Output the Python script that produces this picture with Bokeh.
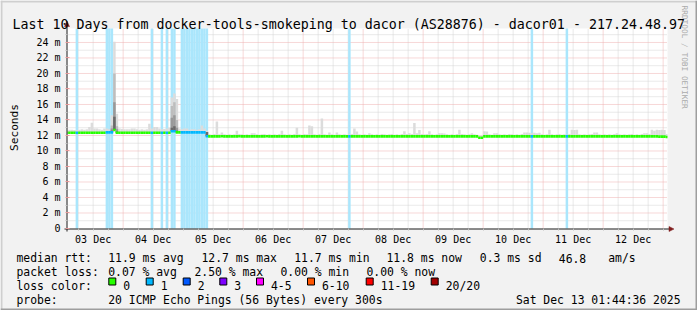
import math
from bokeh.plotting import figure
from bokeh.models import Range1d, FixedTicker, ColumnDataSource
from bokeh.core.properties import value
from bokeh.embed import file_html
from bokeh.resources import INLINE

# ---------------- data ----------------
TITLE = "Last 10 Days from docker-tools-smokeping to dacor (AS28876) - dacor01 - 217.24.48.97"
# time axis: hours since 03 Dec 00:00; window ends Sat Dec 13 01:44:36 2025
END_TEXT = "Sat Dec 13 01:44:36 2025"
window_end_h = 241 + 44 / 60 + 36 / 3600
window_len_h = 240
first_bin_h = 1          # hourly bins, first one starts 03 Dec 01:00

median_rtt = [  # ms, one value per hour bin
    12.35, 12.35, 12.35, 12.35, 12.35, 12.35, 12.35, 12.35, 12.35, 12.35, 12.35, 12.35,
    12.35, 12.35, 12.35, 12.35, 12.4, 12.4, 12.4, 12.7, 12.35, 12.35, 12.35, 12.35,
    12.35, 12.35, 12.35, 12.35, 12.35, 12.35, 12.35, 12.35, 12.35, 12.35, 12.35, 12.35,
    12.35, 12.35, 12.35, 12.35, 12.35, 12.35, 12.55, 12.55, 12.4, 12.4, 12.4, 12.4,
    12.4, 12.4, 12.4, 12.4, 12.4, 12.4, 12.4, 12.4, 11.9, 11.88, 11.88, 11.88,
    11.88, 11.88, 11.9, 11.88, 11.88, 11.88, 11.88, 11.88, 11.88, 11.9, 11.88, 11.88,
    11.88, 11.88, 11.88, 11.88, 11.88, 11.88, 11.88, 11.88, 11.9, 11.88, 11.88, 11.88,
    11.88, 11.88, 11.88, 11.88, 11.88, 11.88, 11.88, 11.88, 11.88, 11.9, 11.88, 11.88,
    11.88, 11.88, 11.88, 11.88, 11.88, 11.88, 11.88, 11.88, 11.88, 11.88, 11.88, 11.88,
    11.88, 11.88, 11.88, 11.88, 11.88, 11.88, 11.88, 11.88, 11.88, 11.88, 11.88, 11.88,
    11.88, 11.88, 11.88, 11.88, 11.88, 11.88, 11.88, 11.88, 11.88, 11.88, 11.88, 11.88,
    11.88, 11.88, 11.88, 11.88, 11.88, 11.88, 11.88, 11.88, 11.88, 11.88, 11.88, 11.88,
    11.88, 11.88, 11.88, 11.88, 11.88, 11.88, 11.88, 11.88, 11.88, 11.88, 11.88, 11.88,
    11.88, 11.88, 11.88, 11.88, 11.88, 11.88, 11.88, 11.88, 11.88, 11.7, 11.7, 11.88,
    11.88, 11.88, 11.88, 11.88, 11.88, 11.88, 11.88, 11.88, 11.88, 11.88, 11.88, 11.88,
    11.88, 11.88, 11.88, 11.88, 11.88, 11.88, 11.88, 11.88, 11.88, 11.88, 11.88, 11.88,
    11.88, 11.88, 11.88, 11.88, 11.88, 11.88, 11.88, 11.88, 11.88, 11.88, 11.88, 11.88,
    11.88, 11.88, 11.88, 11.88, 11.88, 11.88, 11.88, 11.88, 11.88, 11.88, 11.88, 11.88,
    11.88, 11.88, 11.88, 11.88, 11.88, 11.88, 11.88, 11.88, 11.88, 11.88, 11.88, 11.88,
    11.88, 11.88, 11.88, 11.88, 11.88, 11.88, 11.88, 11.88, 11.88, 11.85, 11.85, 11.85,
    11.8,
]

smoke_max = [  # ms, highest ping of each hour bin (light smoke top)
    12.7, 12.75, 12.75, 12.7, 12.7, 12.75, 12.8, 12.75, 12.8, 13.1, 13.65, 12.9,
    12.9, 12.8, 12.75, 12.9, 12.9, 12.8, 14.6, 24.1, 14.8, 12.9, 12.85, 12.8,
    12.8, 12.8, 12.9, 12.9, 12.8, 12.75, 12.8, 12.75, 12.8, 13.5, 12.9, 13.1,
    13.1, 12.9, 12.8, 12.85, 12.9, 13.0, 16.9, 17.4, 16.7, 12.9, 12.8, 12.9,
    12.9, 12.75, 12.8, 12.8, 12.75, 12.8, 13.3, 12.9, 12.6, 12.15, 12.1, 12.2,
    13.8, 12.15, 12.4, 12.15, 12.1, 12.15, 12.1, 12.15, 12.6, 12.2, 12.15, 12.1,
    12.15, 12.1, 12.3, 12.3, 12.15, 12.1, 12.15, 12.2, 12.1, 12.15, 12.1, 12.15,
    12.1, 12.2, 12.6, 12.15, 12.1, 12.15, 12.1, 12.2, 13.0, 12.15, 12.1, 12.2,
    12.15, 13.3, 13.2, 12.15, 12.1, 12.2, 14.2, 12.15, 12.1, 12.4, 12.15, 12.1,
    12.4, 12.15, 12.1, 12.15, 12.1, 12.15, 12.2, 12.9, 12.5, 12.15, 12.1, 12.15,
    12.1, 12.3, 12.15, 12.1, 12.15, 12.1, 12.2, 12.15, 12.1, 12.15, 12.2, 12.1,
    12.15, 12.1, 12.2, 12.55, 12.2, 12.3, 12.2, 13.6, 12.3, 12.7, 12.2, 12.15,
    12.2, 12.55, 12.15, 12.1, 12.15, 12.3, 12.3, 12.25, 12.15, 12.1, 12.15, 12.1,
    12.2, 12.75, 12.2, 12.15, 12.1, 12.15, 12.3, 12.15, 12.1, 12.0, 12.0, 12.55,
    12.5, 12.15, 12.1, 12.3, 12.3, 12.15, 12.1, 12.15, 12.1, 12.2, 12.15, 12.1,
    12.15, 12.1, 12.2, 12.4, 12.4, 12.35, 12.3, 12.35, 12.3, 12.35, 12.15, 12.1,
    12.15, 12.75, 12.15, 12.1, 12.15, 12.2, 12.1, 12.15, 12.1, 12.2, 12.75, 12.7,
    12.75, 12.15, 12.1, 12.15, 12.1, 12.15, 12.2, 12.4, 12.4, 12.15, 12.1, 12.15,
    12.1, 12.15, 12.1, 12.2, 12.3, 12.15, 12.1, 12.15, 12.1, 12.15, 12.2, 12.1,
    12.15, 12.1, 12.2, 12.3, 12.3, 12.2, 12.75, 12.6, 12.75, 12.7, 12.75, 12.7,
    12.2,
]

# inner smoke layers for the bins with a wide ping spread
spread_bins = [19, 20, 21, 43, 44, 45, 57]
spread_p90 = [13.3, 20.0, 13.2, 15.8, 16.3, 14.0, 12.45]
spread_p75 = [12.9, 16.3, 12.8, 14.3, 14.6, 13.0, 12.45]
spread_p60 = [12.6, 14.4, 12.5, 13.0, 13.2, 12.6, 12.45]

# hour bins with packet loss (number of lost pings out of 20)
loss_bins = [5, 17, 18, 19, 35, 39, 41, 43, 44, 47, 48, 49, 50, 51, 52, 53, 54,
             55, 56, 57, 114, 187, 201]
loss_count = [1, 1, 1, 1, 1, 1, 1, 1, 1, 1, 1, 1, 1, 1, 1, 1, 1,
              1, 1, 1, 1, 1, 1]

day_noons = [12, 36, 60, 84, 108, 132, 156, 180, 204, 228]
day_labels = ["03 Dec", "04 Dec", "05 Dec", "06 Dec", "07 Dec",
              "08 Dec", "09 Dec", "10 Dec", "11 Dec", "12 Dec"]
y_ticks = [0, 2, 4, 6, 8, 10, 12, 14, 16, 18, 20, 22, 24]
y_tick_labels = ["0", "2 m", "4 m", "6 m", "8 m", "10 m", "12 m", "14 m",
                 "16 m", "18 m", "20 m", "22 m", "24 m"]
y_top = 25.8

rtt_label = "median rtt:"
rtt_items = ["11.9 ms avg", "12.7 ms max", "11.7 ms min", "11.8 ms now", "0.3 ms sd", "46.8", "am/s"]
loss_label = "packet loss:"
loss_items = ["0.07 % avg", "2.50 % max", "0.00 % min", "0.00 % now"]
lc_label = "loss color:"
lc_names = ["0", "1", "2", "3", "4-5", "6-10", "11-19", "20/20"]
lc_colors = ["#26ff00", "#00b8ff", "#0059ff", "#7e00ff", "#ff00ff", "#ff5500", "#ff0000", "#a10000"]
probe_label = "probe:"
probe_text = "20 ICMP Echo Pings (56 Bytes) every 300s"
unit_label = "Seconds"
watermark = "RRDTOOL / TOBI OETIKER"

assert len(median_rtt) == 241 and len(smoke_max) == 241

# ---------------- style / layout ----------------
MONO = "DejaVu Sans Mono"
W, H = 697, 310
AREA_L, AREA_R, AREA_T, AREA_B = 67, 667, 28, 228   # chart area on the page (px)
BACK = "#f2f2f2"
SHADEA, SHADEB = "#cfcfcf", "#9e9e9e"
GRID, MGRID = "#d3d3d3", "#efb0b0"
AXIS, ARROW = "#1f1f1f", "#801f1f"
LOSS_BG = "#aae6fc"
SMOKE = ["#dcdcdc", "#bdbdbd", "#999999", "#6a6a6a"]

win_start = window_end_h - window_len_h
win_end = window_end_h
px_per_h = (AREA_R - AREA_L) / window_len_h
px_per_ms = (AREA_B - AREA_T) / y_top

# the frame is the whole page; the data ranges are widened so that the
# chart window lands on the chart area, a second pixel range carries the page furniture
p = figure(width=W, height=H, output_backend="svg", toolbar_location=None,
           x_range=Range1d(win_start - AREA_L / px_per_h, win_end + (W - AREA_R) / px_per_h),
           y_range=Range1d(-(H - AREA_B) / px_per_ms, y_top + AREA_T / px_per_ms),
           min_border=0)
p.extra_x_ranges = {"px": Range1d(0, W)}
p.extra_y_ranges = {"px": Range1d(H, 0)}
p.background_fill_color = BACK
p.border_fill_color = BACK
p.outline_line_color = None
p.xgrid.visible = False
p.ygrid.visible = False

# axes pinned to the chart window
xa = p.xaxis[0]
xa.fixed_location = 0
xa.ticker = FixedTicker(ticks=day_noons, minor_ticks=list(range(6, 241, 6)))
xa.major_label_overrides = {h: s for h, s in zip(day_noons, day_labels)}
xa.axis_line_color = None
xa.major_tick_line_color = None
xa.minor_tick_line_color = "#bdbdbd"
xa.minor_tick_in = 0
xa.minor_tick_out = 2
xa.major_tick_out = 2
xa.major_label_standoff = 3
xa.major_label_text_font = MONO
xa.major_label_text_font_size = "10px"
xa.major_label_text_color = "black"

ya = p.yaxis[0]
ya.fixed_location = win_start
ya.ticker = FixedTicker(ticks=y_ticks, minor_ticks=list(range(1, 26, 2)))
ya.major_label_overrides = {v: s for v, s in zip(y_ticks, y_tick_labels)}
ya.axis_line_color = None
ya.major_tick_line_color = "#e99a9a"
ya.major_tick_in = 2
ya.major_tick_out = 2
ya.minor_tick_line_color = "#bdbdbd"
ya.minor_tick_in = 0
ya.minor_tick_out = 2
ya.major_label_standoff = 5
ya.major_label_text_font = MONO
ya.major_label_text_font_size = "10px"
ya.major_label_text_color = "black"

# chart canvas
p.quad(left=[win_start], right=[win_end], bottom=[0], top=[y_top],
       fill_color="white", line_color=None)

# grid (dotted) inside the chart window
midnights = [h for h in range(24, 241, 24)]
six_hours = [h for h in range(6, 241, 6) if h % 24 != 0]
even_ms = y_ticks[1:]
odd_ms = list(range(1, 26, 2))
p.segment(x0=six_hours, x1=six_hours, y0=0, y1=y_top, line_color=GRID, line_dash="1 1")
p.segment(x0=win_start, x1=win_end, y0=odd_ms, y1=odd_ms, line_color=GRID, line_dash="1 1")
p.segment(x0=midnights, x1=midnights, y0=0, y1=y_top, line_color=MGRID, line_dash="1 1")
p.segment(x0=win_start, x1=win_end, y0=even_ms, y1=even_ms, line_color=MGRID, line_dash="1 1")

# loss background bands
p.quad(left=loss_bins, right=[b + 1 for b in loss_bins],
       bottom=0, top=y_top, fill_color=LOSS_BG, line_color=None)

# smoke + median line coloured by loss (bins clipped to the window)
hours = [first_bin_h + i for i in range(len(median_rtt))]
loss_map = dict(zip(loss_bins, loss_count))
seg_colors = [lc_colors[min(loss_map.get(h, 0), 7)] for h in hours]
src = ColumnDataSource(dict(left=[max(h, win_start) for h in hours],
                            right=[min(h + 1, win_end) for h in hours],
                            med=median_rtt, top=smoke_max, color=seg_colors))
p.quad(left="left", right="right", bottom="med", top="top", source=src,
       fill_color=SMOKE[0], line_color=None)
spread_med = [median_rtt[b - first_bin_h] for b in spread_bins]
for layer, col in zip([spread_p90, spread_p75, spread_p60], SMOKE[1:]):
    p.quad(left=spread_bins, right=[b + 1 for b in spread_bins],
           bottom=spread_med, top=layer, fill_color=col, line_color=None)
p.segment(x0="left", x1="right", y0="med", y1="med", source=src,
          line_color="color", line_width=2.6, line_cap="butt")

# ---------------- page furniture (pixel range) ----------------
PX = dict(x_range_name="px", y_range_name="px")

# 3D frame
p.quad(left=[0, 0], right=[W, 2], top=[0, 0], bottom=[2, H], fill_color=SHADEA, line_color=None, **PX)
p.quad(left=[0, W - 2], right=[W, W], top=[H - 2, 0], bottom=[H, H], fill_color=SHADEB, line_color=None, **PX)

# axis lines + arrow heads
p.segment(x0=[AREA_L - 0.5, AREA_L - 3], y0=[AREA_B + 3, AREA_B + 0.5],
          x1=[AREA_L - 0.5, 669], y1=[25, AREA_B + 0.5], line_color=AXIS, line_width=1, **PX)
p.patches(xs=[[AREA_L - 3, AREA_L + 2, AREA_L - 0.5], [668.5, 668.5, 673.5]],
          ys=[[26, 26, 20.5], [AREA_B - 2, AREA_B + 3, AREA_B + 0.5]],
          fill_color=ARROW, line_color=ARROW, line_width=0.5, **PX)


def txt(xs, ys, texts, size, align="left", angle=0.0, color="black"):
    p.text(x=xs, y=ys, text=texts, text_font=value(MONO),
           text_font_size=value(f"{size}px"), text_align=align,
           text_baseline="alphabetic", angle=angle, text_color=color, **PX)


txt([12], [24], [TITLE], 13.3)
txt([14], [127], [unit_label], 11.2, align="center", angle=math.pi / 2)
txt([683.5], [5], [watermark], 7.8, angle=-math.pi / 2, color="#aaaaaa")

LEG = 11.4
rows_y = [257.5, 271.5, 285.3, 299.2]
txt([16, 107.7, 201, 293.7, 386, 479.3, 558.3, 607.7], [rows_y[0]] * 8,
    [rtt_label] + rtt_items, LEG)
txt([16, 107.7, 194, 280, 366], [rows_y[1]] * 5, [loss_label] + loss_items, LEG)
box_x = [108.3, 145.7, 182.7, 219.3, 256, 307, 365.7, 430.7]
p.quad(left=box_x, right=[x + 7 for x in box_x],
       top=[rows_y[2] - 7.8] * 8, bottom=[rows_y[2] - 0.8] * 8,
       fill_color=lc_colors, line_color="black", line_width=1, **PX)
txt([16] + [x + 14.5 for x in box_x], [rows_y[2]] * 9, [lc_label] + lc_names, LEG)
txt([16, 107.7], [rows_y[3]] * 2, [probe_label, probe_text], LEG)
txt([680], [rows_y[3]], [END_TEXT], LEG, align="right")

open("out.html", "w").write(file_html(p, INLINE))
